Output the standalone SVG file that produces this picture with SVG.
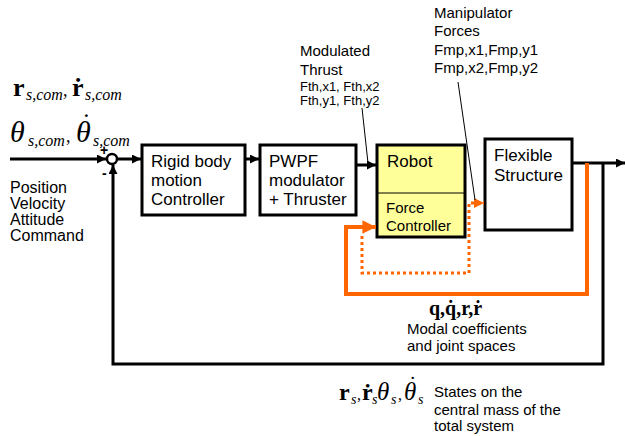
<svg xmlns="http://www.w3.org/2000/svg" width="625" height="436" viewBox="0 0 625 436">
  <style>
    .box { fill: #ffffff; stroke: #000; stroke-width: 3; }
    .robot { fill: #ffff99; stroke: #000; stroke-width: 3; }
    .sans { font-family: "Liberation Sans", Arial, sans-serif; fill: #000; }
    .f17 { font-size: 17px; }
    .f16 { font-size: 16px; }
    .f15 { font-size: 15px; }
    .f13 { font-size: 13px; }
    .math { font-family: "Liberation Serif", "Times New Roman", serif; fill: #000; }
    .b { font-weight: bold; }
    .i { font-style: italic; }
    .wire { fill: none; stroke: #000; stroke-width: 3; }
    .thin { fill: none; stroke: #000; stroke-width: 1; }
    .og { fill: none; stroke: #ff6600; stroke-width: 4; }
    .ogdot { fill: none; stroke: #ff6600; stroke-width: 3; stroke-dasharray: 3 3; }
  </style>
  <defs>
    <marker id="ah" viewBox="0 0 10 10" refX="10" refY="5" markerWidth="3" markerHeight="3" markerUnits="strokeWidth" orient="auto">
      <path d="M0,0 L10,5 L0,10 z" fill="#000"/>
    </marker>
    <marker id="ahO" viewBox="0 0 10 10" refX="10" refY="5" markerWidth="3.6" markerHeight="3.4" markerUnits="strokeWidth" orient="auto">
      <path d="M0,0 L10,5 L0,10 z" fill="#ff6600"/>
    </marker>
  </defs>

  <!-- commanded states and their labels -->
  <g id="input">
    <text class="math b" x="13" y="96" font-size="26">r</text>
    <text class="math i" x="26" y="100" font-size="16">s,com</text>
    <text class="math" x="63" y="96" font-size="18">,</text>
    <text class="math b" x="72" y="96" font-size="26">ṙ</text>
    <text class="math i" x="85" y="100" font-size="16">s,com</text>

    <text class="math i" x="10" y="142" font-size="30">θ</text>
    <text class="math i" x="28" y="146" font-size="16">s,com</text>
    <text class="math" x="66" y="142" font-size="18">,</text>
    <!-- theta with a dot above -->
    <text class="math i" x="76" y="142" font-size="30">θ<tspan x="82" y="131" font-size="26" font-style="normal">˙</tspan></text>
    <text class="math i" x="93" y="146" font-size="16">s,com</text>

    <text class="sans f16" x="10" y="193">Position</text>
    <text class="sans f16" x="10" y="209">Velocity</text>
    <text class="sans f16" x="10" y="225">Attitude</text>
    <text class="sans f16" x="10" y="241">Command</text>
  </g>

  <!-- summing junction -->
  <g id="sum">
    <circle cx="112" cy="159" r="5" fill="#fff" stroke="#000" stroke-width="2.5"/>
    <text class="sans b" x="100" y="155" font-size="14">+</text>
    <text class="sans b" x="102" y="178" font-size="14">-</text>
  </g>

  <g id="rigid">
    <rect class="box" x="142" y="145" width="103" height="70"/>
    <text class="sans f17" x="151" y="167">Rigid body</text>
    <text class="sans f17" x="151" y="186">motion</text>
    <text class="sans f17" x="151" y="205">Controller</text>
  </g>

  <g id="pwpf">
    <rect class="box" x="260" y="145" width="96" height="70"/>
    <text class="sans f17" x="269" y="167">PWPF</text>
    <text class="sans f17" x="269" y="186">modulator</text>
    <text class="sans f17" x="269" y="205">+ Thruster</text>
  </g>

  <g id="robot">
    <rect class="robot" x="377" y="145" width="88" height="92"/>
    <line x1="377" y1="193" x2="465" y2="193" stroke="#000" stroke-width="1"/>
    <text class="sans f17" x="387" y="167">Robot</text>
    <text class="sans f15" x="386" y="213">Force</text>
    <text class="sans f15" x="386" y="231">Controller</text>
  </g>

  <g id="flexible">
    <rect class="box" x="485" y="139" width="87" height="91"/>
    <text class="sans f17" x="494" y="161">Flexible</text>
    <text class="sans f17" x="494" y="181">Structure</text>
  </g>

  <!-- signal annotations -->
  <g id="thrust-label">
    <text class="sans f15" x="300" y="56">Modulated</text>
    <text class="sans f15" x="300" y="75">Thrust</text>
    <text class="sans f13" x="300" y="91">Fth,x1, Fth,x2</text>
    <text class="sans f13" x="300" y="105">Fth,y1, Fth,y2</text>
  </g>
  <g id="forces-label">
    <text class="sans f15" x="434" y="18">Manipulator</text>
    <text class="sans f15" x="434" y="36">Forces</text>
    <text class="sans f15" x="434" y="55">Fmp,x1,Fmp,y1</text>
    <text class="sans f15" x="434" y="73">Fmp,x2,Fmp,y2</text>
  </g>
  <g id="modal-label">
    <text class="math b" x="429" y="315" font-size="20">q,q̇,r,ṙ</text>
    <text class="sans f15" x="407" y="334">Modal coefficients</text>
    <text class="sans f15" x="407" y="351">and joint spaces</text>
  </g>
  <g id="states-label">
    <text class="math b" x="339" y="400" font-size="24">r</text>
    <text class="math i" x="351" y="404" font-size="14">s</text>
    <text class="math" x="357" y="400" font-size="16">,</text>
    <text class="math b" x="362" y="400" font-size="24">ṙ</text>
    <text class="math i" x="372" y="404" font-size="14">s</text>
    <text class="math i" x="377" y="400" font-size="25">θ</text>
    <text class="math i" x="391" y="404" font-size="14">s</text>
    <text class="math" x="398" y="400" font-size="16">,</text>
    <!-- theta with a dot above -->
    <text class="math i" x="404" y="400" font-size="25">θ<tspan x="409" y="391" font-size="22" font-style="normal">˙</tspan></text>
    <text class="math i" x="418" y="404" font-size="14">s</text>
    <text class="sans f15" x="434" y="397">States on the</text>
    <text class="sans f15" x="434" y="415">central mass of the</text>
    <text class="sans f15" x="434" y="431">total  system</text>
  </g>

  <!-- connectors -->
  <g id="connectors">
    <line class="wire" x1="10" y1="159" x2="106" y2="159" marker-end="url(#ah)"/>
    <line class="wire" x1="117" y1="159" x2="141" y2="159" marker-end="url(#ah)"/>
    <line class="wire" x1="245" y1="159" x2="259" y2="159" marker-end="url(#ah)"/>
    <line class="wire" x1="356" y1="165" x2="376" y2="165" marker-end="url(#ah)"/>
    <line class="wire" x1="572" y1="163" x2="625" y2="163" marker-end="url(#ah)"/>
    <!-- rigid-body feedback -->
    <polyline class="wire" points="603,163 603,364 113,364 113,165" marker-end="url(#ah)"/>
    <!-- flexible-state feedback to force controller -->
    <polyline class="og" points="587,163 587,294 346,294 346,227 376,227" marker-end="url(#ahO)"/>
    <!-- force controller output to structure -->
    <polyline class="ogdot" points="362,236 362,273 469,273 469,203 484,203" marker-end="url(#ahO)"/>
    <!-- label leaders -->
    <line class="thin" x1="362" y1="108" x2="368" y2="163"/>
    <line class="thin" x1="458" y1="82" x2="475" y2="200"/>
  </g>
</svg>
